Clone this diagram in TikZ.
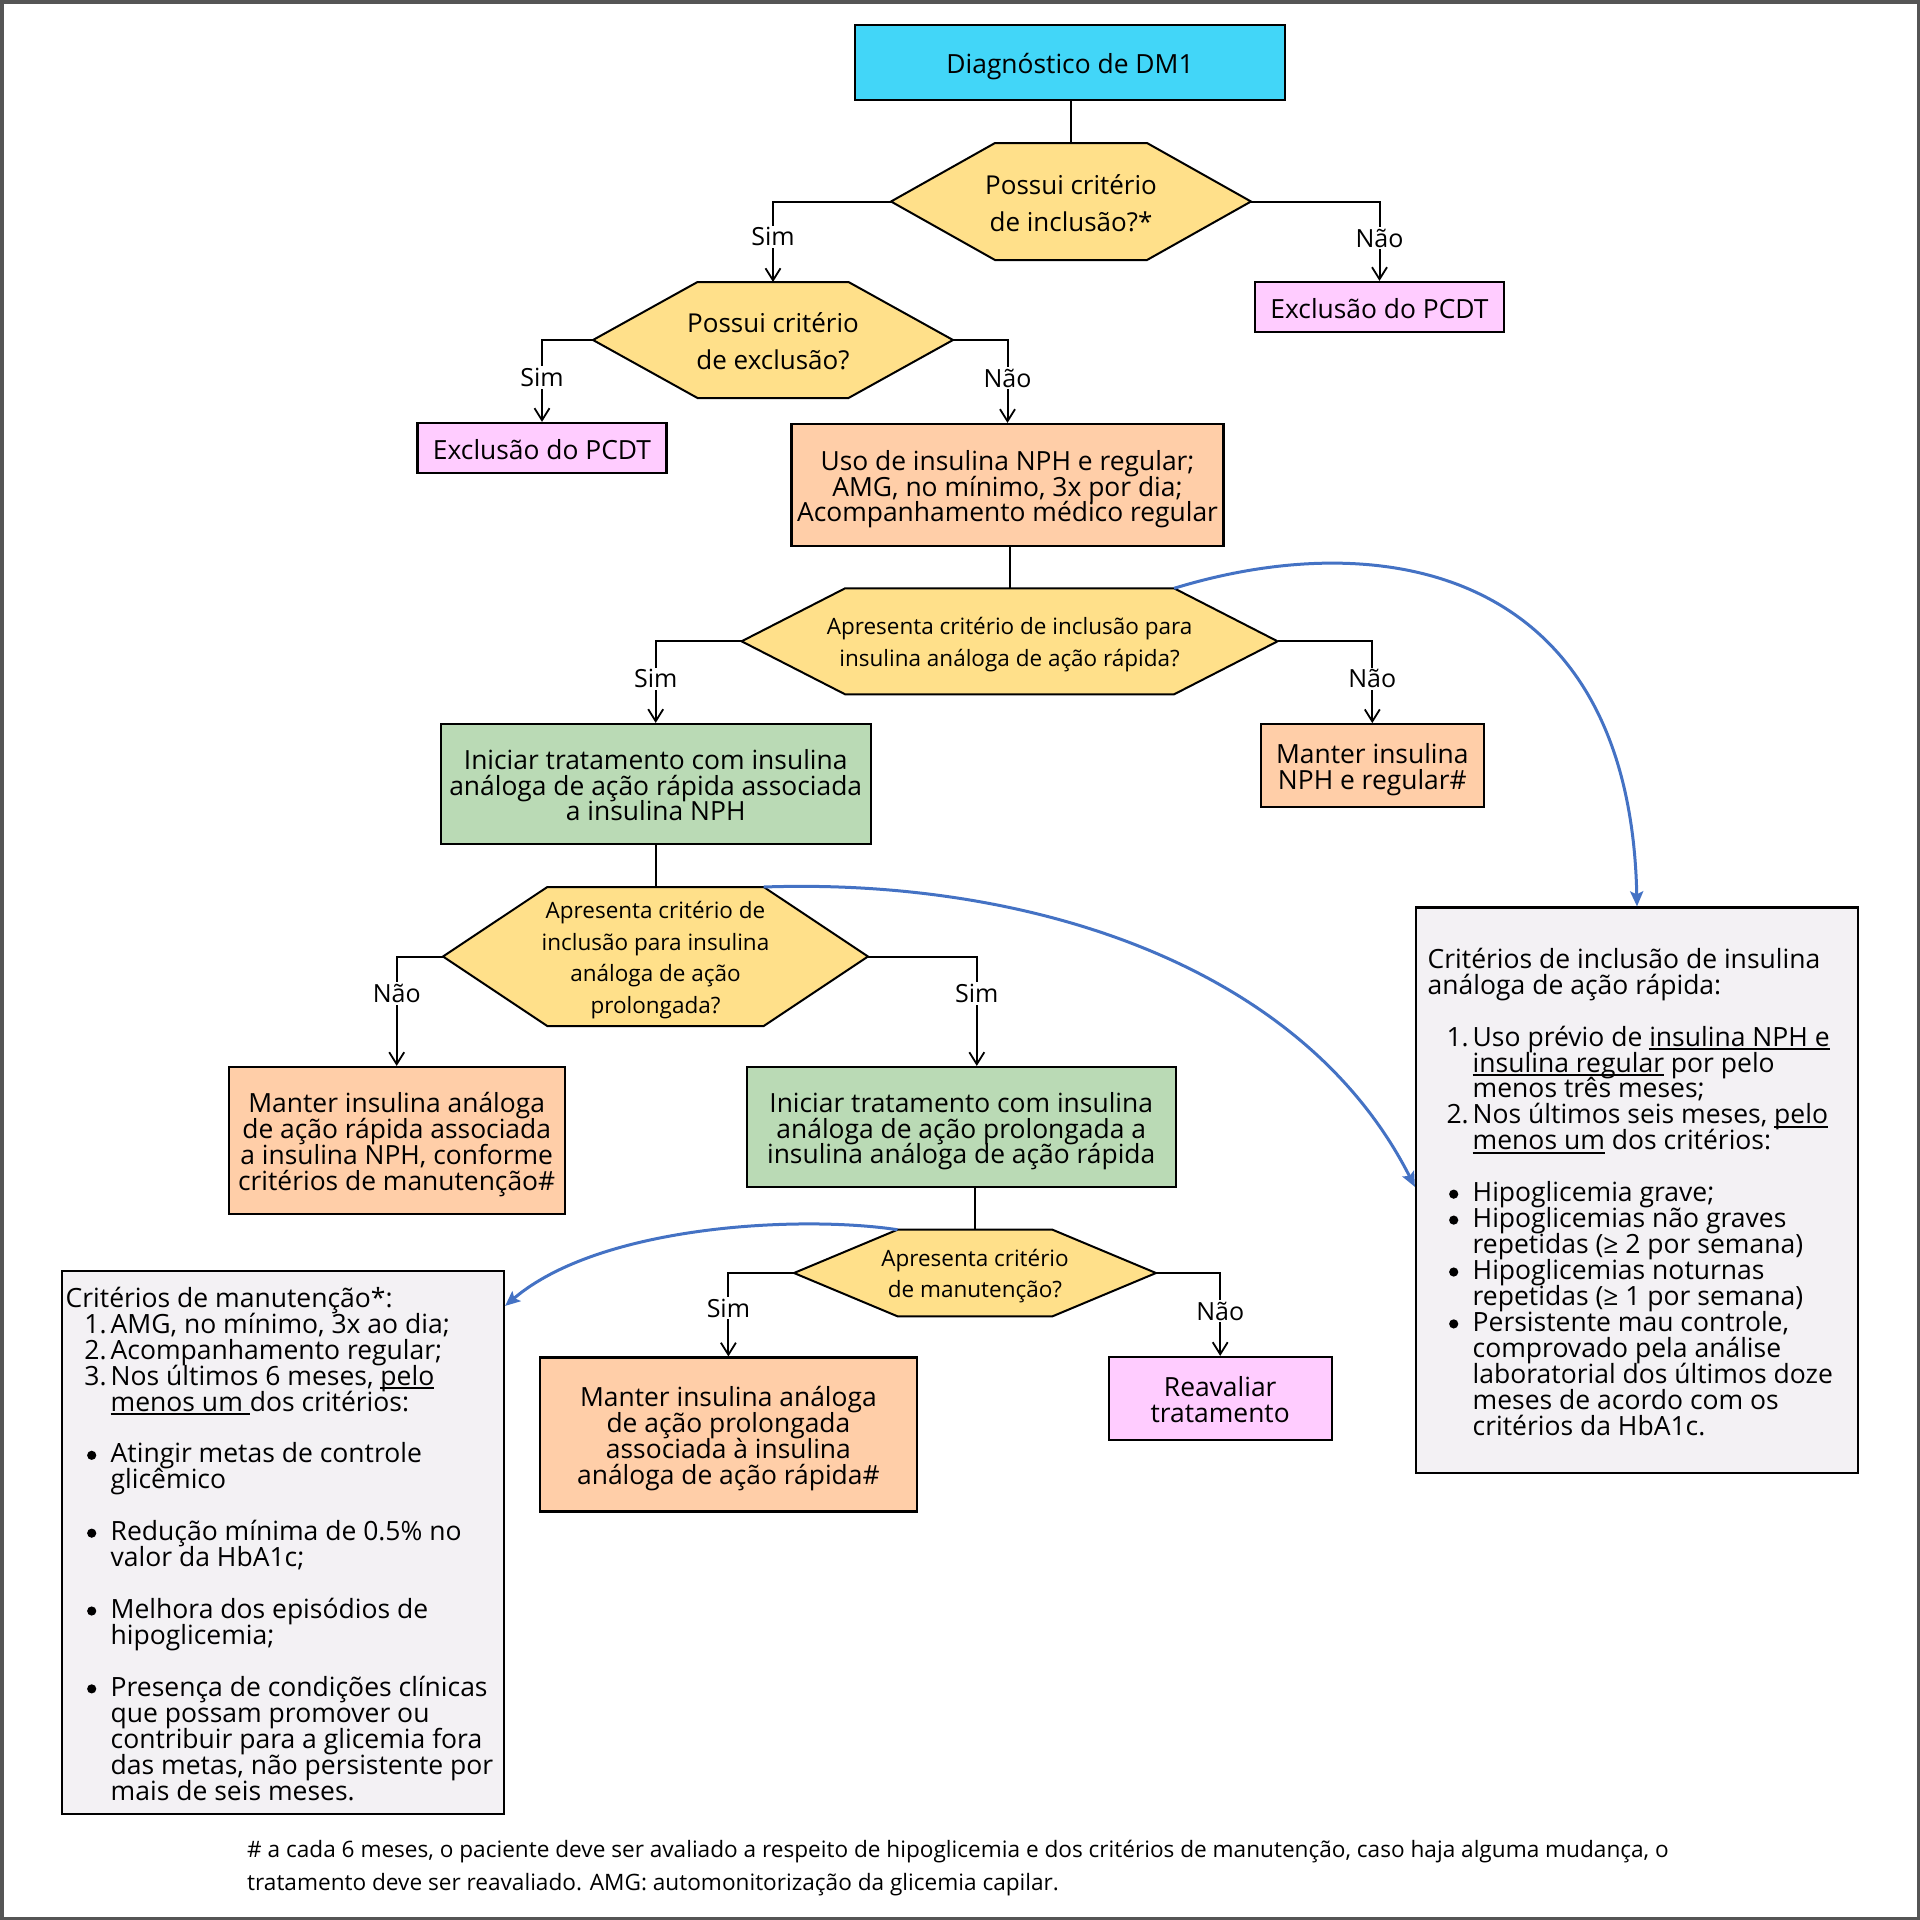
\documentclass[tikz,border=0pt]{standalone}
\usepackage{fontspec}
\setmainfont{Open Sans}
\usetikzlibrary{arrows.meta,calc}
\definecolor{cyanbox}{RGB}{66,214,248}
\definecolor{hexyellow}{RGB}{255,224,138}
\definecolor{pinkbox}{RGB}{255,204,255}
\definecolor{peachbox}{RGB}{255,206,168}
\definecolor{greenbox}{RGB}{186,218,181}
\definecolor{critgrey}{RGB}{243,241,244}
\definecolor{bluearr}{RGB}{68,114,196}
\definecolor{framecol}{RGB}{85,85,85}
\newcommand\fs[2]{\fontsize{#1}{#2}\selectfont\lineskiplimit=-50pt\relax}
\newcommand\hexshape[6]{%
  \path[hexfill] ({#2-#4},#3) coordinate (#1L) -- ({#2-#4+#5},{#3-#6}) coordinate (#1TL)
    -- ({#2+#4-#5},{#3-#6}) coordinate (#1TR) -- ({#2+#4},#3) coordinate (#1R)
    -- ({#2+#4-#5},{#3+#6}) coordinate (#1BR) -- ({#2-#4+#5},{#3+#6}) coordinate (#1BL) -- cycle;
  \coordinate (#1T) at (#2,{#3-#6});}
\newcommand\myul[1]{\setbox0\hbox{#1}\rlap{\rule[-4pt]{\wd0}{1.6pt}}\box0\relax}
\newcommand\bul{\makebox[45pt][l]{\kern21.4pt\raisebox{3pt}{\tikz\fill (0,0) circle (4.6pt);}}}
\newcommand\numi[1]{\makebox[45pt][r]{#1\kern4pt}}
\newcommand\cont{\kern45pt}
\newcommand\bt[1]{\rule{0pt}{29pt}#1\rule[-7pt]{0pt}{7pt}}
\tikzset{
  box/.style={draw, line width=2.2pt, align=center, font=\fs{26.4}{25.8}, inner sep=0pt},
  hexfill/.style={draw, line width=2pt, fill=hexyellow},
  hextxtA/.style={align=center, font=\fs{26}{36.7}, inner sep=0pt},
  hextxtB/.style={align=center, font=\fs{22.5}{31.6}, inner sep=0pt},
  conn/.style={draw, line width=2pt},
  arr/.style={conn, -{Straight Barb[length=12pt,width=15pt,line width=1.8pt]}},
  lbl/.style={fill=white, inner sep=2pt, font=\fs{25}{25}},
  barr/.style={draw=bluearr, line width=3pt, -{Stealth[length=15pt,width=13pt,inset=3pt]}},
  crit/.style={draw, line width=2.2pt, fill=critgrey, inner sep=0pt},
  crittxt/.style={align=left, inner sep=0pt, anchor=north west, font=\fs{26.5}{25.95}},
}
\begin{document}
\begin{tikzpicture}[x=1pt,y=-1pt]
\useasboundingbox (0,0) rectangle (1920,1920);
\fill[white] (0,0) rectangle (1920,1920);
\draw[framecol, line width=3.5pt] (1.75,1.75) rectangle (1918.25,1918.25);

% boxes
\node[box, fill=cyanbox, minimum width=430pt, minimum height=75pt] (dm1) at (1070,62.5) {\bt{Diagnóstico de DM1}};
\node[box, fill=pinkbox, minimum width=249pt, minimum height=50pt] (ex1) at (1379.5,307) {\bt{Exclusão do PCDT}};
\node[box, fill=pinkbox, minimum width=249pt, minimum height=50pt] (ex2) at (542,448) {\bt{Exclusão do PCDT}};
\node[box, fill=peachbox, minimum width=432pt, minimum height=122pt] (p1) at (1007.5,485) {\bt{Uso de insulina NPH e regular;\\AMG, no mínimo, 3x por dia;\\Acompanhamento médico regular}};
\node[box, fill=greenbox, minimum width=430pt, minimum height=120pt] (g1) at (655.7,784) {\bt{Iniciar tratamento com insulina\\análoga de ação rápida associada\\a insulina NPH}};
\node[box, fill=peachbox, minimum width=223pt, minimum height=83pt] (mnph) at (1372.3,765.7) {\bt{Manter insulina\\NPH e regular\#}};
\node[box, fill=peachbox, minimum width=336pt, minimum height=147pt] (p2) at (396.7,1140.5) {\bt{Manter insulina análoga\\de ação rápida associada\\a insulina NPH, conforme\\critérios de manutenção\#}};
\node[box, fill=greenbox, minimum width=429pt, minimum height=120pt] (g2) at (961.2,1127) {\bt{Iniciar tratamento com insulina\\análoga de ação prolongada a\\insulina análoga de ação rápida}};
\node[box, fill=peachbox, minimum width=377pt, minimum height=154pt] (p3) at (728.4,1434.5) {\bt{Manter insulina análoga\\de ação prolongada\\associada à insulina\\análoga de ação rápida\#}};
\node[box, fill=pinkbox, minimum width=223pt, minimum height=83pt] (reav) at (1220.2,1398.5) {\bt{Reavaliar\\tratamento}};

% criteria boxes
\node[crit, minimum width=442pt, minimum height=543pt] (lcrit) at (283,1542.5) {};
\node[crit, minimum width=442pt, minimum height=565.5pt] (rcrit) at (1637,1190.25) {};

% hexagons
\hexshape{h1}{1071}{201.5}{180}{104}{58.5}
\hexshape{h2}{773}{340}{180}{104.5}{58}
\hexshape{h3}{1009.6}{641.3}{268}{103.5}{53}
\hexshape{h4}{655.5}{956.5}{212.5}{104.3}{69.5}
\hexshape{h5}{975}{1273}{181}{103.5}{43.3}
\node[hextxtA] (h1) at (1071,203) {Possui critério\\de inclusão?*};
\node[hextxtA] (h2) at (773,341.5) {Possui critério\\de exclusão?};
\node[hextxtB] (h3) at (1009.6,644.5) {Apresenta critério de inclusão para\\insulina análoga de ação rápida?};
\node[hextxtB] (h4) at (655.5,960) {Apresenta critério de\\inclusão para insulina\\análoga de ação\\prolongada?};
\node[hextxtB] (h5) at (975,1276) {Apresenta critério\\de manutenção?};

% connectors
\draw[conn] (h1T |- dm1.south) -- (h1T);
\draw[arr] (h1L) -| node[lbl,pos=0.72]{Sim} (h2T);
\draw[arr] (h1R) -| node[lbl,pos=0.73]{Não} (ex1.north);
\draw[arr] (h2L) -| node[lbl,pos=0.73]{Sim} (ex2.north);
\draw[arr] (h2R) -| node[lbl,pos=0.73]{Não} (p1.north);
\draw[conn] (h3T |- p1.south) -- (h3T);
\draw[arr] (h3L) -| node[lbl,pos=0.73]{Sim} (g1.north);
\draw[arr] (h3R) -| node[lbl,pos=0.73]{Não} (mnph.north);
\draw[conn] (h4T |- g1.south) -- (h4T);
\draw[arr] (h4L) -| node[lbl,pos=0.67]{Não} (p2.north);
\draw[arr] (h4R) -| node[lbl,pos=0.67]{Sim} ([xshift=15.6pt]g2.north);
\draw[conn] (h5T |- g2.south) -- (h5T);
\draw[arr] (h5L) -| node[lbl,pos=0.71]{Sim} (p3.north);
\draw[arr] (h5R) -| node[lbl,pos=0.73]{Não} (reav.north);

% criteria texts
\node[crittxt] (rcritT) at (1427.5,946) {\rule{0pt}{22pt}Critérios de inclusão de insulina\\análoga de ação rápida:\\\mbox{}\\
\numi{1.}Uso prévio de \myul{insulina NPH e}\\
\cont\myul{insulina regular} por pelo\\
\cont menos três meses;\\
\numi{2.}Nos últimos seis meses, \myul{pelo}\\
\cont\myul{menos um} dos critérios:\\\mbox{}\\
\bul Hipoglicemia grave;\\
\bul Hipoglicemias não graves\\
\cont repetidas (≥ 2 por semana)\\
\bul Hipoglicemias noturnas\\
\cont repetidas (≥ 1 por semana)\\
\bul Persistente mau controle,\\
\cont comprovado pela análise\\
\cont laboratorial dos últimos doze\\
\cont meses de acordo com os\\
\cont critérios da HbA1c.};
\node[crittxt] (lcritT) at (65.5,1285) {\rule{0pt}{22pt}Critérios de manutenção*:\\
\numi{1.}AMG, no mínimo, 3x ao dia;\\
\numi{2.}Acompanhamento regular;\\
\numi{3.}Nos últimos 6 meses, \myul{pelo}\\
\cont\myul{menos um }dos critérios:\\\mbox{}\\
\bul Atingir metas de controle\\
\cont glicêmico\\\mbox{}\\
\bul Redução mínima de 0.5\% no\\
\cont valor da HbA1c;\\\mbox{}\\
\bul Melhora dos episódios de\\
\cont hipoglicemia;\\\mbox{}\\
\bul Presença de condições clínicas\\
\cont que possam promover ou\\
\cont contribuir para a glicemia fora\\
\cont das metas, não persistente por\\
\cont mais de seis meses.};

% footnote
\node[anchor=north west, inner sep=0pt, align=left, font=\fs{22.6}{33}] (fn) at (247,1837) {\rule{0pt}{20pt}\# a cada 6 meses, o paciente deve ser avaliado a respeito de hipoglicemia e dos critérios de manutenção, caso haja alguma mudança, o\\tratamento deve ser reavaliado. AMG: automonitorização da glicemia capilar.};

% blue curves
\draw[barr] (h3TR) .. controls (1380,525) and (1630,565) .. (rcrit.north);
\draw[barr] (h4TR) .. controls (1020,878) and (1300,960) .. ($(rcrit.north west)+(0,280.5)$);
\draw[barr] (h5TL) .. controls (800,1215) and (600,1225) .. ($(lcrit.north east)+(0,36)$);
\end{tikzpicture}
\end{document}
